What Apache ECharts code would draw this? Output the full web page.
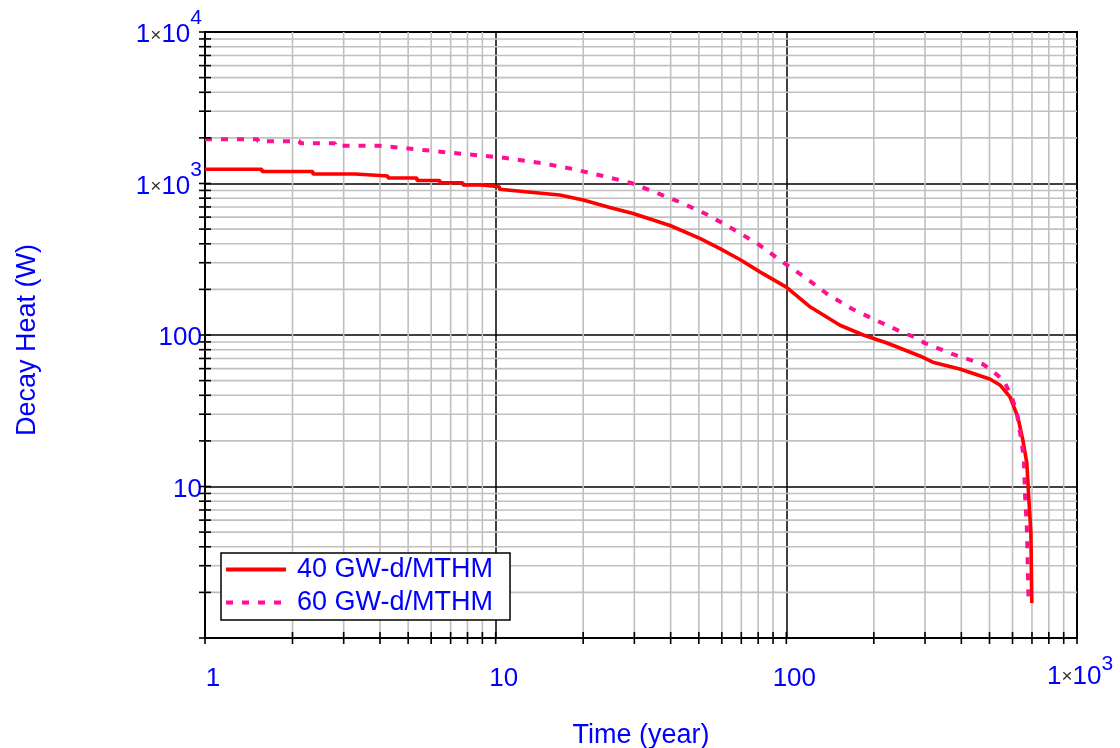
<!DOCTYPE html>
<html><head><meta charset="utf-8">
<script src="https://cdn.jsdelivr.net/npm/echarts@6/dist/echarts.min.js"></script>
<style>html,body{margin:0;padding:0;background:#fff}#c{width:1120px;height:748px}</style>
</head><body><div id="c"></div>
<script>
// ---- data ----
const seriesNames = ['40 GW-d/MTHM', '60 GW-d/MTHM'];
const time40 = [1, 1.57, 1.57, 2.35, 2.35, 3.28, 3.28, 4.26, 4.26, 5.36, 5.36, 6.43, 6.43, 7.71, 7.71, 8.95, 8.95, 10.3, 10.3,
  16.6, 20, 24.7, 29.7, 39.8, 50.4, 59.1, 69.2, 81.1, 100,
  121, 153, 184, 222, 288, 319, 395, 501, 543, 588, 626, 651, 672, 683, 694, 699];
const heat40 = [1241, 1241, 1200, 1200, 1155, 1155, 1121, 1121, 1087, 1087, 1047, 1047, 1012, 1012, 977, 977, 953, 953, 916,
  840, 778, 695, 634, 528, 434, 372, 315, 261, 207,
  153, 116, 100, 88.5, 72.7, 66.2, 59.7, 51.2, 46.8, 39.0, 28.7, 20.3, 14.3, 8.15, 4.93, 1.70];
const time60 = [1, 1.52, 1.52, 2.12, 2.12, 2.80, 2.80, 3.94, 3.94,
  5.0, 7.36, 10.35, 14.5, 18.4, 23.4, 29.2, 35.9, 43.8, 52.9,
  65.5, 79.8, 97.3, 118, 138, 168, 202, 248, 277, 300,
  374, 422, 475, 514, 561, 597, 621, 646, 657, 662,
  672, 676, 679, 683];
const heat60 = [1959, 1959, 1899, 1899, 1842, 1842, 1776, 1776, 1723,
  1702, 1582, 1489, 1360, 1247, 1121, 1008, 865, 743, 629,
  501, 399, 303, 234, 187, 149, 126, 105, 96.7, 88.3,
  74.7, 69.2, 64.1, 57.7, 49.6, 38.9, 30.5, 19.3, 14.9, 9.04,
  5.40, 3.42, 2.14, 1.70];
// tick values of the log axes
const xTicks = [1,2,3,4,5,6,7,8,9,10,20,30,40,50,60,70,80,90,100,200,300,400,500,600,700,800,900,1000];
const xMinor = [2,3,4,5,6,7,8,9,20,30,40,50,60,70,80,90,200,300,400,500,600,700,800,900];
const yTicks = [1,2,3,4,5,6,7,8,9,10,20,30,40,50,60,70,80,90,100,200,300,400,500,600,700,800,900,
  1000,2000,3000,4000,5000,6000,7000,8000,9000,10000];
const yMinor = [2,3,4,5,6,7,8,9,20,30,40,50,60,70,80,90,200,300,400,500,600,700,800,900,
  2000,3000,4000,5000,6000,7000,8000,9000];
const xAxisTitle = 'Time (year)';
const yAxisTitle = 'Decay Heat (W)';

// ---- styling ----
const BLUE = '#0000ff';
const FONT = '"Liberation Sans", Arial, sans-serif';
const zip = (a, b) => a.map((v, i) => [v, b[i]]);

const richY = {
  n: {fontSize: 26, color: BLUE, fontFamily: FONT, padding: [6, 0, 0, 0]},
  b: {fontSize: 26, color: BLUE, fontFamily: FONT, verticalAlign: 'bottom', padding: [0, 0, 8, 0]},
  m: {fontSize: 19, color: '#333', fontFamily: FONT, verticalAlign: 'bottom', padding: [0, 0, 11, 0]},
  s: {fontSize: 21, color: BLUE, fontFamily: FONT, verticalAlign: 'top', padding: [0, 0, 27, 0]}
};
const richX = {
  n: {fontSize: 26, color: BLUE, fontFamily: FONT, padding: [0, 0, 0, 16]},
  f: {fontSize: 26, color: BLUE, fontFamily: FONT, verticalAlign: 'bottom', padding: [0, 0, 15, 6]},
  b: {fontSize: 26, color: BLUE, fontFamily: FONT, verticalAlign: 'bottom', padding: [0, 0, 15, 0]},
  m: {fontSize: 19, color: '#333', fontFamily: FONT, verticalAlign: 'bottom', padding: [0, 0, 18, 0]},
  s: {fontSize: 21, color: BLUE, fontFamily: FONT, verticalAlign: 'top', padding: [0, 0, 30, 0]}
};
function fmtY(v) {
  const r = Math.round(v);
  if (r <= 1) return '';
  const e = Math.round(Math.log10(r));
  if (e >= 3) return '{b|1}{m|×}{b|10}{s|' + e + '}';
  return '{n|' + r + '}';
}
function fmtX(v) {
  const r = Math.round(v);
  const e = Math.round(Math.log10(r));
  if (e >= 3) return '{f|1}{m|×}{b|10}{s|' + e + '}';
  return '{n|' + r + '}';
}

function vLines(values, color, full, z) {
  return {
    type: 'custom', silent: true, z: z, clip: false,
    data: values.map(v => [v, 1]),
    renderItem(params, api) {
      const p = api.coord([api.value(0), api.value(1)]);
      const cs = params.coordSys;
      const y0 = cs.y + cs.height;
      return {type: 'line', shape: full ? {x1: p[0], y1: cs.y, x2: p[0], y2: y0} : {x1: p[0], y1: y0 - 6, x2: p[0], y2: y0 + 6},
        style: {stroke: color, lineWidth: 1.6}};
    }
  };
}
function hLines(values, color, full, z) {
  return {
    type: 'custom', silent: true, z: z, clip: false,
    data: values.map(v => [1, v]),
    renderItem(params, api) {
      const p = api.coord([api.value(0), api.value(1)]);
      const cs = params.coordSys;
      const x0 = cs.x;
      return {type: 'line', shape: full ? {x1: x0, y1: p[1], x2: x0 + cs.width, y2: p[1]} : {x1: x0 - 6, y1: p[1], x2: x0 + 6, y2: p[1]},
        style: {stroke: color, lineWidth: 1.6}};
    }
  };
}

const chart = echarts.init(document.getElementById('c'), null, {renderer: 'canvas'});
chart.setOption({
  animation: false,
  backgroundColor: '#fff',
  grid: {left: 205, right: 43, top: 32, bottom: 110, containLabel: false, outerBoundsMode: 'none',
    show: true, borderColor: '#000', borderWidth: 2, backgroundColor: 'transparent'},
  xAxis: {
    type: 'log', logBase: 10, min: 1, max: 1000, interval: 1,
    name: xAxisTitle, nameLocation: 'middle', nameGap: 84,
    nameTextStyle: {color: BLUE, fontSize: 27, fontFamily: FONT},
    axisLine: {show: true, lineStyle: {color: '#000', width: 2}},
    axisTick: {show: false},
    splitLine: {show: true, lineStyle: {color: '#000', width: 1.5}},
    axisLabel: {margin: 41, verticalAlign: 'middle', showMinLabel: true, showMaxLabel: true, hideOverlap: false,
      formatter: fmtX, rich: richX}
  },
  yAxis: {
    type: 'log', logBase: 10, min: 1, max: 10000, interval: 1,
    name: yAxisTitle, nameLocation: 'middle', nameGap: 164, nameRotate: 90,
    nameTextStyle: {color: BLUE, fontSize: 27, fontFamily: FONT, padding: [0, 10, 0, 0]},
    axisLine: {show: true, lineStyle: {color: '#000', width: 2}},
    axisTick: {show: false},
    splitLine: {show: true, lineStyle: {color: '#000', width: 1.5}},
    axisLabel: {margin: 3, showMinLabel: true, showMaxLabel: true, hideOverlap: false,
      formatter: fmtY, rich: richY}
  },
  legend: {
    data: seriesNames, orient: 'vertical', left: 221, top: 553,
    backgroundColor: '#fff', borderColor: '#000', borderWidth: 1.5, borderRadius: 0,
    padding: [3, 17, 4, 3], itemGap: 6, itemWidth: 60, itemHeight: 14, selectedMode: false,
    itemStyle: {color: 'rgba(0,0,0,0)', borderWidth: 0, opacity: 0},
    lineStyle: {width: 4},
    textStyle: {color: BLUE, fontSize: 27, fontFamily: FONT, lineHeight: 27, padding: [0, 0, 0, 6]}
  },
  series: [
    vLines(xMinor, '#c0c0c0', true, 1),
    hLines(yMinor, '#c0c0c0', true, 1),
    vLines(xTicks, '#000', false, 6),
    hLines(yTicks, '#000', false, 6),
    {name: seriesNames[0], type: 'line', z: 4, symbol: 'none', data: zip(time40, heat40),
      lineStyle: {color: '#ff0000', width: 3.6}, itemStyle: {color: '#ff0000'}},
    {name: seriesNames[1], type: 'line', z: 4, symbol: 'none', data: zip(time60, heat60),
      lineStyle: {color: '#ff1090', width: 4, type: [7, 9]}, itemStyle: {color: '#ff1090'}}
  ]
});
</script></body></html>
